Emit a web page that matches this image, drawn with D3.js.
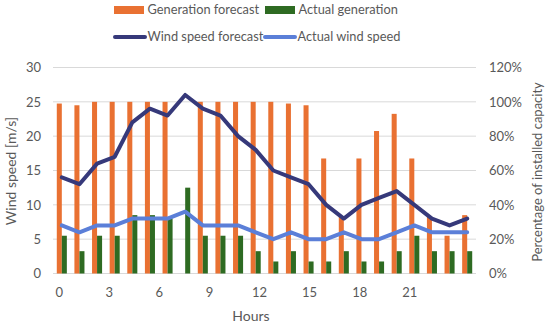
<!DOCTYPE html>
<html>
<head>
<meta charset="utf-8">
<script src="https://cdn.jsdelivr.net/npm/d3@7"></script>
<style>
  body { margin: 0; background: #ffffff; }
  svg text { font-family: Lato, "Open Sans", sans-serif; fill: #595959; }
</style>
</head>
<body>
<div id="chart"></div>
<script>
// -------------------------------------------------------------
// DATA
// -------------------------------------------------------------
const hours = [0, 1, 2, 3, 4, 5, 6, 7, 8, 9, 10, 11, 12, 13, 14, 15, 16, 17, 18, 19, 20, 21, 22, 23];
const hourTicks = [0, 3, 6, 9, 12, 15, 18, 21];

// bars, percentage of installed capacity
const generationForecast = [99, 98, 100, 100, 100, 100, 100, 0, 100, 100, 100, 100, 100, 99, 98, 67, 33, 67, 83, 93, 67, 33, 22, 34];
const actualGeneration = [22, 13, 22, 22, 34, 34, 32, 50, 22, 22, 22, 13, 7, 13, 7, 7, 13, 7, 7, 13, 22, 13, 13, 13];

// lines, m/s
const windSpeedForecast = [14, 13, 16, 17, 22, 24, 23, 26, 24, 23, 20, 18, 15, 14, 13, 10, 8, 10, 11, 12, 10, 8, 7, 8];
const actualWindSpeed = [7, 6, 7, 7, 8, 8, 8, 9, 7, 7, 7, 6, 5, 6, 5, 5, 6, 5, 5, 6, 7, 6, 6, 6];

const leftTicks = [0, 5, 10, 15, 20, 25, 30];
const rightTicks = [0, 20, 40, 60, 80, 100, 120];

// -------------------------------------------------------------
// CONFIG
// -------------------------------------------------------------
const width = 550;
const height = 326;
const plot = { left: 53, right: 476, top: 67.5, bottom: 273.5 };

const colors = {
    genForecast: "#E97132",
    actualGen: "#2E6B22",
    windForecast: "#36397A",
    actualWind: "#5B7FD8",
    grid: "#D9D9D9"
};

const svg = d3.select("#chart")
    .append("svg")
    .attr("width", width)
    .attr("height", height)
    .style("background", "#ffffff");

// -------------------------------------------------------------
// SCALES
// -------------------------------------------------------------
const x = d3.scaleBand()
    .domain(hours)
    .range([plot.left, plot.right])
    .paddingInner(0.43)
    .paddingOuter(0.215);

const xSub = d3.scaleBand()
    .domain(["forecast", "actual"])
    .range([0, x.bandwidth()]);

// hour labels sit slightly off the bar centres in the original
const xLabel = d3.scaleLinear()
    .domain([0, 21])
    .range([58.7, 409.3]);

const yLeft = d3.scaleLinear().domain([0, 30]).range([plot.bottom, plot.top]);
const yRight = d3.scaleLinear().domain([0, 120]).range([plot.bottom, plot.top]);

// -------------------------------------------------------------
// GRID
// -------------------------------------------------------------
svg.append("g")
    .selectAll("line")
    .data(leftTicks)
    .enter()
    .append("line")
    .attr("x1", plot.left)
    .attr("x2", plot.right)
    .attr("y1", d => yLeft(d))
    .attr("y2", d => yLeft(d))
    .attr("stroke", colors.grid)
    .attr("stroke-width", 1);

// -------------------------------------------------------------
// BARS
// -------------------------------------------------------------
svg.append("g")
    .selectAll("rect")
    .data(hours)
    .enter()
    .append("rect")
    .attr("x", h => x(h) + xSub("forecast"))
    .attr("width", xSub.bandwidth())
    .attr("y", (h, i) => yRight(generationForecast[i]))
    .attr("height", (h, i) => plot.bottom - yRight(generationForecast[i]))
    .attr("fill", colors.genForecast);

svg.append("g")
    .selectAll("rect")
    .data(hours)
    .enter()
    .append("rect")
    .attr("x", h => x(h) + xSub("actual"))
    .attr("width", xSub.bandwidth())
    .attr("y", (h, i) => yRight(actualGeneration[i]))
    .attr("height", (h, i) => plot.bottom - yRight(actualGeneration[i]))
    .attr("fill", colors.actualGen);

// -------------------------------------------------------------
// LINES
// -------------------------------------------------------------
const lineFor = values => d3.line()
    .x((h, i) => x(h) + x.bandwidth() / 2)
    .y((h, i) => yLeft(values[i]));

svg.append("path")
    .datum(hours)
    .attr("d", lineFor(windSpeedForecast))
    .attr("fill", "none")
    .attr("stroke", colors.windForecast)
    .attr("stroke-width", 4)
    .attr("stroke-linejoin", "round")
    .attr("stroke-linecap", "round");

svg.append("path")
    .datum(hours)
    .attr("d", lineFor(actualWindSpeed))
    .attr("fill", "none")
    .attr("stroke", colors.actualWind)
    .attr("stroke-width", 4)
    .attr("stroke-linejoin", "round")
    .attr("stroke-linecap", "round");

// -------------------------------------------------------------
// AXES
// -------------------------------------------------------------
const leftAxis = svg.append("g")
    .attr("transform", `translate(${plot.left - 12},0)`)
    .call(d3.axisLeft(yLeft).tickValues(leftTicks).tickSize(0).tickPadding(0));
leftAxis.select(".domain").remove();
leftAxis.selectAll("text").style("font-size", "13px");

const rightAxis = svg.append("g")
    .attr("transform", `translate(${plot.right + 13},0)`)
    .call(d3.axisRight(yRight).tickValues(rightTicks).tickSize(0).tickPadding(0)
        .tickFormat(d => d + "%"));
rightAxis.select(".domain").remove();
rightAxis.selectAll("text").style("font-size", "13px");

const bottomAxis = svg.append("g")
    .attr("transform", `translate(0,${plot.bottom + 14})`)
    .call(d3.axisBottom(xLabel).tickValues(hourTicks).tickSize(0).tickPadding(0));
bottomAxis.select(".domain").remove();
bottomAxis.selectAll("text").style("font-size", "13px");

// -------------------------------------------------------------
// AXIS TITLES
// -------------------------------------------------------------
svg.append("text")
    .attr("transform", "translate(16,171) rotate(-90)")
    .attr("text-anchor", "middle")
    .style("font-size", "14px")
    .text("Wind speed [m/s]");

svg.append("text")
    .attr("transform", "translate(542,172) rotate(-90)")
    .attr("text-anchor", "middle")
    .style("font-size", "13px")
    .text("Percentage of installed capacity");

svg.append("text")
    .attr("x", 251)
    .attr("y", 321)
    .attr("text-anchor", "middle")
    .style("font-size", "14px")
    .text("Hours");

// -------------------------------------------------------------
// LEGEND
// -------------------------------------------------------------
const legendItems = [
    { label: "Generation forecast", type: "rect", color: colors.genForecast, x: 114, y: 10 },
    { label: "Actual generation", type: "rect", color: colors.actualGen, x: 265, y: 10 },
    { label: "Wind speed forecast", type: "line", color: colors.windForecast, x: 114, y: 37 },
    { label: "Actual wind speed", type: "line", color: colors.actualWind, x: 264, y: 37 }
];

const legend = svg.append("g")
    .selectAll("g")
    .data(legendItems)
    .enter()
    .append("g")
    .attr("transform", d => `translate(${d.x},${d.y})`);

legend.filter(d => d.type === "rect")
    .append("rect")
    .attr("x", 0)
    .attr("y", -4)
    .attr("width", 30)
    .attr("height", 8)
    .attr("fill", d => d.color);

legend.filter(d => d.type === "line")
    .append("line")
    .attr("x1", 1)
    .attr("x2", 31)
    .attr("stroke", d => d.color)
    .attr("stroke-width", 4)
    .attr("stroke-linecap", "round");

legend.append("text")
    .attr("x", 33.5)
    .attr("dy", "0.35em")
    .style("font-size", "12.8px")
    .text(d => d.label);
</script>
</body>
</html>
